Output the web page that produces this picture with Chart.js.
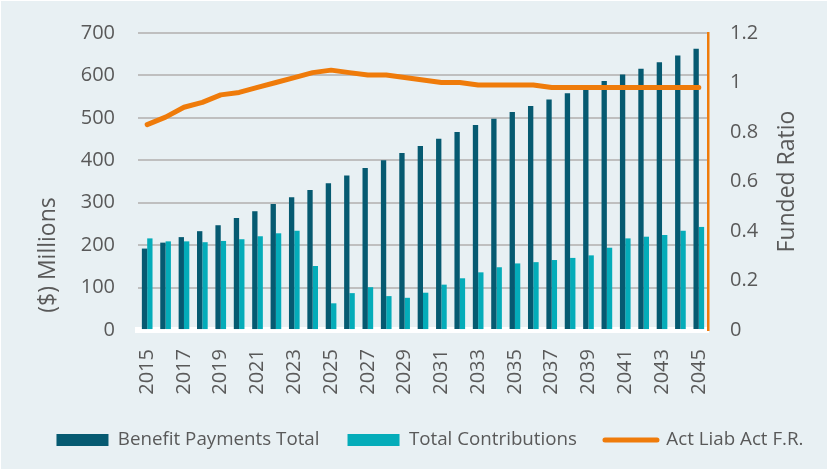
<!DOCTYPE html>
<html>
<head>
<meta charset="utf-8">
<script src="https://cdn.jsdelivr.net/npm/chart.js@4.4.1/dist/chart.umd.min.js"></script>
<style>
  html, body { margin: 0; padding: 0; background: #ffffff; }
  .container { position: absolute; left: 1px; top: 1px; width: 826px; height: 468px; background: #e8f0f3; }
</style>
</head>
<body>
<div class="container">
  <canvas id="myChart"></canvas>
</div>
<script>
const years = ['2015', '2016', '2017', '2018', '2019', '2020', '2021', '2022', '2023', '2024', '2025',
  '2026', '2027', '2028', '2029', '2030', '2031', '2032', '2033', '2034', '2035',
  '2036', '2037', '2038', '2039', '2040', '2041', '2042', '2043', '2044', '2045'];

const benefitPayments = [192, 206, 219, 233, 247, 264, 280, 297, 313, 330, 346,
  364, 382, 400, 417, 434, 451, 467, 483, 498, 514,
  528, 543, 558, 572, 587, 602, 616, 631, 647, 663];

const contributions = [216, 209, 209, 207, 210, 214, 221, 228, 234, 151, 63,
  87, 101, 80, 76, 88, 107, 122, 136, 148, 157,
  160, 165, 170, 176, 194, 216, 220, 224, 234, 243];

const fundedRatio = [0.83, 0.86, 0.90, 0.92, 0.95, 0.96, 0.98, 1.00, 1.02, 1.04, 1.05,
  1.04, 1.03, 1.03, 1.02, 1.01, 1.00, 1.00, 0.99, 0.99, 0.99,
  0.99, 0.98, 0.98, 0.98, 0.98, 0.98, 0.98, 0.98, 0.98, 0.98];

const leftTitle = '($) Millions';
const rightTitle = 'Funded Ratio';

const FONT = "'Open Sans', sans-serif";
const GREY = '#595959';

// axis titles drawn by hand: both read bottom-to-top, left one sits low like the original
const axisTitles = {
  id: 'axisTitles',
  afterLayout(chart) {
    // the original legend sits a bit right of centre
    chart.legend.left += 16;
    chart.legend.right += 16;
  },
  afterDraw(chart) {
    const { ctx, chartArea } = chart;
    const put = (text, x, y) => {
      ctx.save();
      ctx.translate(x, y);
      ctx.rotate(-Math.PI / 2);
      ctx.fillText(text, 0, 0);
      ctx.restore();
    };
    ctx.save();
    ctx.fillStyle = GREY;
    ctx.font = "23px 'Open Sans', sans-serif";
    ctx.textAlign = 'center';
    ctx.textBaseline = 'middle';
    put(leftTitle, chartArea.left - 90, chartArea.bottom - 75);
    put(rightTitle, chartArea.right + 79, (chartArea.top + chartArea.bottom) / 2);
    ctx.restore();
  }
};

const data = {
  labels: years,
  datasets: [
    {
      type: 'bar',
      label: 'Benefit Payments Total',
      data: benefitPayments,
      backgroundColor: '#065a71',
      yAxisID: 'y',
      order: 1,
      categoryPercentage: 0.58,
      barPercentage: 1
    },
    {
      type: 'bar',
      label: 'Total Contributions',
      data: contributions,
      backgroundColor: '#04acb9',
      yAxisID: 'y',
      order: 1,
      categoryPercentage: 0.58,
      barPercentage: 1
    },
    {
      type: 'line',
      label: 'Act Liab Act F.R.',
      data: fundedRatio,
      borderColor: '#ef7b0a',
      backgroundColor: '#ef7b0a',
      borderWidth: 5,
      borderCapStyle: 'round',
      borderJoinStyle: 'round',
      pointRadius: 0,
      tension: 0,
      yAxisID: 'y1',
      order: 0
    }
  ]
};

const config = {
  data: data,
  plugins: [axisTitles],
  options: {
    responsive: true,
    maintainAspectRatio: false,
    animation: false,
    layout: { padding: { left: 4, right: 4, top: 32, bottom: 9.6 } },
    plugins: {
      tooltip: { enabled: false },
      legend: {
        position: 'bottom',
        labels: {
          font: { family: FONT, size: 18.75 },
          color: GREY,
          usePointStyle: true,
          pointStyleWidth: 52,
          boxHeight: 12,
          padding: 28,
          sort: (a, b) => a.datasetIndex - b.datasetIndex,
          generateLabels(chart) {
            const items = Chart.defaults.plugins.legend.labels.generateLabels(chart);
            items.forEach(it => {
              if (it.datasetIndex === 2) {
                it.pointStyle = 'line';
                it.lineCap = 'round';
                it.lineWidth = 5;
              } else {
                it.pointStyle = 'rect';
                it.lineWidth = 0;
              }
            });
            return items;
          }
        }
      }
    },
    scales: {
      x: {
        z: 1,
        offset: true,
        grid: { display: false, drawTicks: false },
        border: { display: true, color: '#ffffff', width: 6 },
        afterFit: s => { s.height = 72.6; },
        ticks: {
          autoSkip: false,
          minRotation: 90,
          maxRotation: 90,
          padding: 19,
          color: GREY,
          font: { family: FONT, size: 20 },
          callback: function (value, index) {
            return index % 2 === 0 ? this.getLabelForValue(value) : '';
          }
        }
      },
      y: {
        position: 'left',
        min: 0,
        max: 700,
        grid: { color: '#bfbfbf', lineWidth: 2, drawTicks: false },
        border: { display: false },
        afterFit: s => { s.width = 133; s.paddingTop = 0; s.paddingBottom = 0; },
        ticks: {
          stepSize: 100,
          padding: 23,
          color: GREY,
          font: { family: FONT, size: 20 }
        }
      },
      y1: {
        position: 'right',
        min: 0,
        max: 1.2,
        grid: { display: false, drawTicks: false },
        border: { display: true, color: '#ef7b0a', width: 2.5 },
        afterFit: s => { s.width = 115; s.paddingTop = 0; s.paddingBottom = 0; },
        ticks: {
          stepSize: 0.2,
          padding: 22,
          color: GREY,
          font: { family: FONT, size: 20 },
          callback: v => String(+v.toFixed(1))
        }
      }
    }
  }
};

const ctx = document.getElementById('myChart');
const myChart = new Chart(ctx, config);
</script>
</body>
</html>
